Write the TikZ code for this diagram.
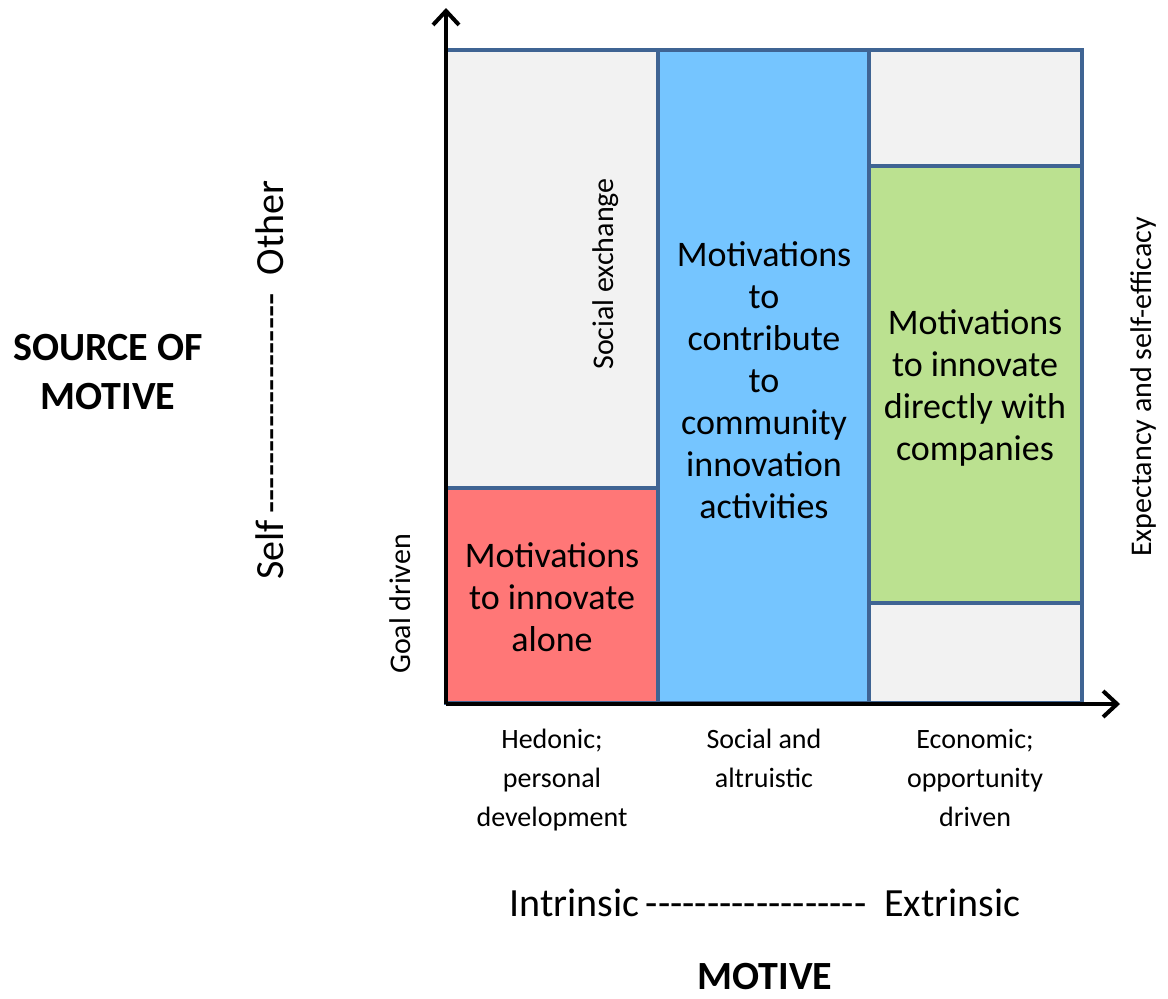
\documentclass[tikz,border=0pt]{standalone}
\usepackage{fontspec}
\setmainfont{Carlito}
\usetikzlibrary{arrows.meta}
\definecolor{bordc}{HTML}{3F6493}
\definecolor{graybg}{HTML}{F2F2F2}
\definecolor{redbg}{HTML}{FF7777}
\definecolor{bluebg}{HTML}{75C5FF}
\definecolor{greenbg}{HTML}{BBE190}
\newcommand\hyphrun[1]{\foreach \i in {1,...,#1}{-\kern0pt}}
\tikzset{
  cell/.style={draw=bordc, line width=4pt},
  axis/.style={line width=4pt, -{Straight Barb[length=14pt, width=26pt, line width=4pt]}},
  boxtxt/.style={font=\fontsize{36}{42}\selectfont, align=center},
  lab/.style={font=\fontsize{28}{39}\selectfont, align=center, anchor=north},
  side/.style={font=\fontsize{30}{36}\selectfont, rotate=90},
  big/.style={font=\fontsize{40}{49}\selectfont},
  title/.style={font=\bfseries\fontsize{40}{49}\selectfont, align=center}
}
\begin{document}
\begin{tikzpicture}[x=1pt, y=-1pt]
\useasboundingbox (0,0) rectangle (1168,999);
% cells
\filldraw[cell, fill=graybg] (446,50) rectangle (658,488);
\filldraw[cell, fill=redbg] (446,488) rectangle (658,703);
\filldraw[cell, fill=bluebg] (658,50) rectangle (869,703);
\filldraw[cell, fill=graybg] (869,50) rectangle (1082,166);
\filldraw[cell, fill=greenbg] (869,166) rectangle (1082,603);
\filldraw[cell, fill=graybg] (869,603) rectangle (1082,703);
% axes
\coordinate (O) at (446,704);
\coordinate (ytip) at (446,8);
\coordinate (xtip) at (1120,704);
\draw[axis] (O) -- (ytip);
\draw[axis] (O) -- (xtip);
% box texts
\node[boxtxt] (alone) at (552,597) {Motivations\\to innovate\\alone};
\node[boxtxt] (comm) at (764,380) {Motivations\\to\\contribute\\to\\community\\innovation\\activities};
\node[boxtxt] (comp) at (975,388) {Motivations\\to innovate\\directly with\\companies};
% side labels
\node[side] (social) at (606,274) {Social exchange};
\node[side] (goal) at (400,604) {Goal driven};
\node[side] (expect) at (1143,387) {Expectancy and self-efficacy};
\node[big, rotate=90] (selfother) at (270,380) {Self\,\hyphrun{18}\hspace{18pt}Other};
% bottom labels
\node[lab] (hed) at (552,726) {Hedonic;\\personal\\development};
\node[lab] (soc) at (764,726) {Social and\\altruistic};
\node[lab] (eco) at (975,726) {Economic;\\opportunity\\driven};
\node[big] (intext) at (765,903) {Intrinsic\,\hyphrun{18}\hspace{18pt}Extrinsic};
% titles
\node[title] (src) at (108,372) {SOURCE OF\\MOTIVE};
\node[title] (mot) at (765,977) {MOTIVE};
\end{tikzpicture}
\end{document}
